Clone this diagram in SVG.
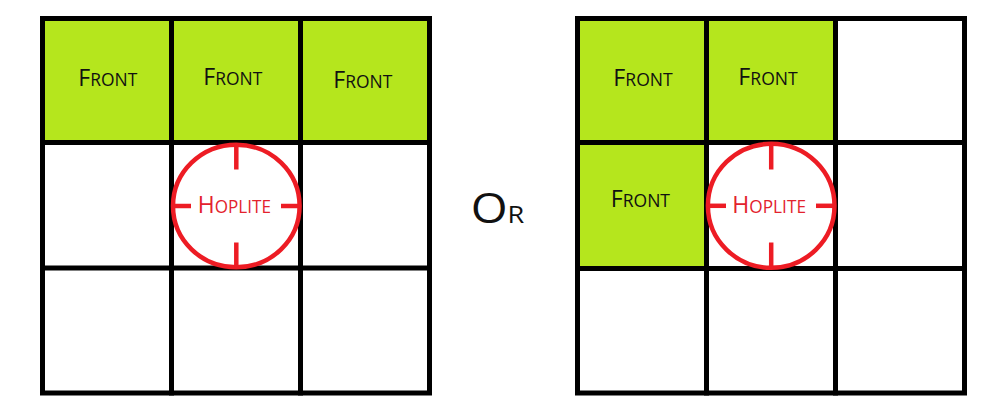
<svg xmlns="http://www.w3.org/2000/svg" width="992" height="416" viewBox="0 0 992 416">
<style>
.bg{fill:#ffffff}
.front{fill:#b5e61d}
.grid{stroke:#000;stroke-width:5;fill:none;stroke-linecap:square}
.ring{fill:none;stroke:#ed1c24;stroke-width:4.5}
.tick{stroke:#ed1c24;stroke-width:4.5;stroke-linecap:butt}
.lbl{font-family:"Open Sans","Lato","Liberation Sans",sans-serif;fill:#111}
.hop{font-family:"Open Sans","Lato","Liberation Sans",sans-serif;fill:#e3222d}
</style>
<rect class="bg" x="0" y="0" width="992" height="416"/>

<g id="left-grid">
  <g id="L-front-1"><rect class="front" x="42.5" y="18.5" width="129" height="124"/>
    <text class="lbl" x="78.3" y="86" textLength="59" lengthAdjust="spacingAndGlyphs"><tspan font-size="24.5">F</tspan><tspan font-size="18.5">RONT</tspan></text></g>
  <g id="L-front-2"><rect class="front" x="171.5" y="18.5" width="129" height="124"/>
    <text class="lbl" x="203.3" y="85" textLength="59" lengthAdjust="spacingAndGlyphs"><tspan font-size="24.5">F</tspan><tspan font-size="18.5">RONT</tspan></text></g>
  <g id="L-front-3"><rect class="front" x="300.5" y="18.5" width="129" height="124"/>
    <text class="lbl" x="333.3" y="88" textLength="59" lengthAdjust="spacingAndGlyphs"><tspan font-size="24.5">F</tspan><tspan font-size="18.5">RONT</tspan></text></g>
  <g id="L-lines">
    <rect class="grid" x="42.5" y="18.5" width="387" height="374.5"/>
    <line class="grid" x1="171.5" y1="18.5" x2="171.5" y2="393"/>
    <line class="grid" x1="300.5" y1="18.5" x2="300.5" y2="393"/>
    <line class="grid" x1="42.5" y1="142.5" x2="429.5" y2="142.5"/>
    <line class="grid" x1="42.5" y1="268" x2="429.5" y2="268"/>
  </g>
  <g id="L-hoplite">
    <ellipse class="ring" cx="236.3" cy="206" rx="63.3" ry="61.3"/>
    <line class="tick" x1="236.3" y1="144" x2="236.3" y2="169.5"/>
    <line class="tick" x1="236.3" y1="242.5" x2="236.3" y2="268"/>
    <line class="tick" x1="172.5" y1="206" x2="191" y2="206"/>
    <line class="tick" x1="281" y1="206" x2="300" y2="206"/>
    <text class="hop" x="197.7" y="212.7" textLength="73.3" lengthAdjust="spacingAndGlyphs"><tspan font-size="23.6">H</tspan><tspan font-size="17.6">OPLITE</tspan></text>
  </g>
</g>

<g id="or-label">
  <text class="lbl" x="470.7" y="223.3" textLength="53.6" lengthAdjust="spacingAndGlyphs" fill="#000"><tspan font-size="42">O</tspan><tspan font-size="24">R</tspan></text>
</g>

<g id="right-grid">
  <g id="R-front-1"><rect class="front" x="577.5" y="18.5" width="129" height="124"/>
    <text class="lbl" x="613.3" y="86" textLength="59.4" lengthAdjust="spacingAndGlyphs"><tspan font-size="24.5">F</tspan><tspan font-size="18.5">RONT</tspan></text></g>
  <g id="R-front-2"><rect class="front" x="706.5" y="18.5" width="129" height="124"/>
    <text class="lbl" x="738.3" y="85" textLength="59.4" lengthAdjust="spacingAndGlyphs"><tspan font-size="24.5">F</tspan><tspan font-size="18.5">RONT</tspan></text></g>
  <g id="R-front-3"><rect class="front" x="577.5" y="142.5" width="129" height="125.5"/>
    <text class="lbl" x="610.7" y="206.7" textLength="59.3" lengthAdjust="spacingAndGlyphs"><tspan font-size="24.5">F</tspan><tspan font-size="18.5">RONT</tspan></text></g>
  <g id="R-lines">
    <rect class="grid" x="577.5" y="18.5" width="387" height="374.5"/>
    <line class="grid" x1="706.5" y1="18.5" x2="706.5" y2="393"/>
    <line class="grid" x1="835.5" y1="18.5" x2="835.5" y2="393"/>
    <line class="grid" x1="577.5" y1="142.5" x2="964.5" y2="142.5"/>
    <line class="grid" x1="577.5" y1="268.5" x2="964.5" y2="268.5"/>
  </g>
  <g id="R-hoplite">
    <ellipse class="ring" cx="771.2" cy="205.8" rx="63.3" ry="62"/>
    <line class="tick" x1="771.2" y1="144" x2="771.2" y2="169.5"/>
    <line class="tick" x1="771.2" y1="242.5" x2="771.2" y2="268"/>
    <line class="tick" x1="707.5" y1="205.8" x2="726" y2="205.8"/>
    <line class="tick" x1="816" y1="205.8" x2="835" y2="205.8"/>
    <text class="hop" x="732.3" y="212.7" textLength="73.7" lengthAdjust="spacingAndGlyphs"><tspan font-size="23.6">H</tspan><tspan font-size="17.6">OPLITE</tspan></text>
  </g>
</g>
<g id="connectors"/>
</svg>
